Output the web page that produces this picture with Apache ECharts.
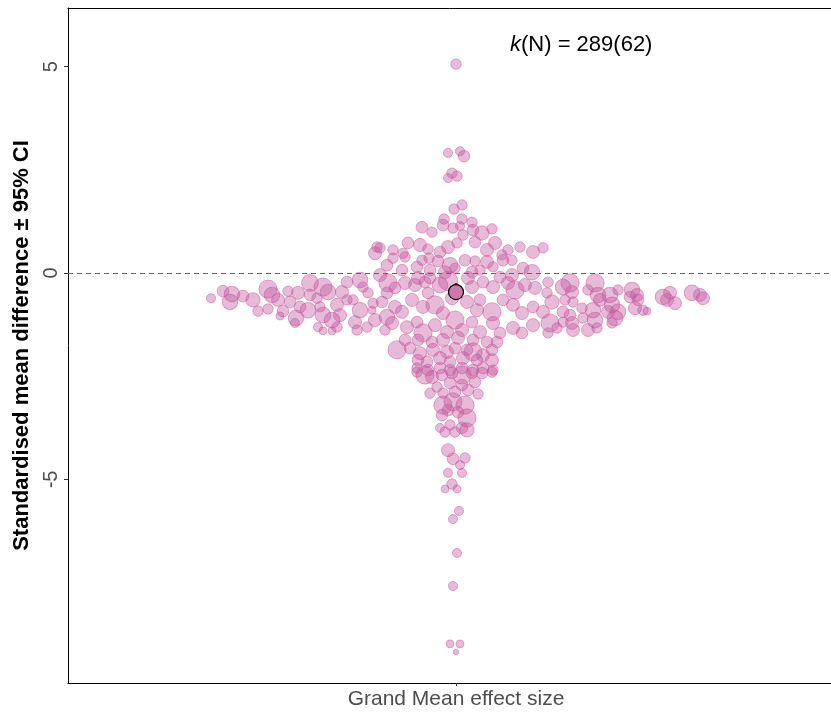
<!DOCTYPE html>
<html>
<head>
<meta charset="utf-8">
<title>Orchard plot</title>
<script src="https://cdn.jsdelivr.net/npm/echarts@6/dist/echarts.min.js"></script>
<style>
  html, body { margin: 0; padding: 0; background: #fff; }
  #chart { width: 831px; height: 713px; }
</style>
</head>
<body>
<div id="chart"></div>
<script>
  // horizontal position inside the swarm (jitter units)
  const jitter = [
    0, -0.08, 0.04, 0.08, -0.04, 0.01, -0.08,
    0.06, -0.02, -0.12, 0.06, 0.16, -0.34, -0.24, -0.13, -0.03, 0.04, 0.26, 0.36, 0.17,
    -0.48, -0.36, -0.28, -0.16, -0.08, 0.01, 0.07, 0.19, 0.31, 0.39, 0.52, 0.64, 0.77, -0.53, 0.46,
    -0.51, -0.39, -0.34, -0.27, -0.18, -0.06, -0.01, 0.09, 0.19, 0.31, 0.37, 0.47, 0.56, 0.67, 0.76, -0.54, -0.26, -0.11, 0.16, 0.24, 0.44, 0.56, -0.38, -0.26,
    -0.61, -0.51, -0.41, -0.31, -0.28, -0.16, 0.16, 0.27, 0.37, 0.52, 0.59, 0.69, 0.79, -0.08, 0.12,
    -0.54, -0.44, -0.33, -0.21, -0.13, -0.04, 0.11, -0.01, 0.21, 0.24, 0.36, 0.47, 0.57, 0.66, 0.77,
    -0.49, -0.39, -0.33, -0.21, -0.09, 0.06, 0.16, 0.24, 0.37, 0.44, 0.57, 0.66, 0.77, -0.51, -0.38, -0.24, -0.13, 0.02, 0.17, 0.31, 0.41,
    -0.59, -0.46, -0.36, -0.23, -0.09, -0.01, 0.11, 0.17, 0.27, 0.36, -0.38, -0.29, -0.16, -0.06, 0.07, 0.21, 0.36, -0.39, -0.28, -0.16, -0.06, 0.06, 0.17, 0.27, 0.37,
    -0.31, -0.24, -0.14, -0.04, 0.06, 0.16, 0.26, 0.36, -0.39, -0.06, 0.06, 0.19, -0.19, -0.26, -0.13, -0.01, 0.12, 0.22, -0.13, -0.03, 0.09, -0.08, -0.14, 0.02, 0.11, -0.06, -0.16, -0.11, -0.01, 0.06, 0.11, -0.08, -0.03, 0.09, 0.04, -0.08, 0.06,
    -0.04, -0.11, 0.01, 0.03, -0.03, 0.01, -0.03, -0.06, 0.04, 0,
    -2.45, -2.33, -2.24, -2.26, -2.13, -2.03, -1.98, -1.88, -1.88, -1.84, -1.78, -1.68, -1.73, -1.66, -1.76, -1.58, -1.56, -1.60, -1.61, -1.46, -1.46, -1.48, -1.39, -1.33, -1.28, -1.36, -1.33, -1.24, -1.38, -1.33, -1.19, -1.14, -1.09, -1.16, -1.19, -1.24, -1.03, -0.96, -0.96, -1.01, -0.99, -0.93, -0.88, -0.83, -0.84, -0.81, -0.89, -0.79, -0.81, -0.76, -0.63, -0.63, -0.69, -0.76, -0.68, -0.69, -0.74, -0.69, -0.71, -0.64, -0.61, -1.09,
    0.87, 0.92, 0.91, 0.87, 0.96, 0.94, 0.92, 1.01, 1.07, 1.14, 1.16, 1.09, 1.17, 1.07, 1.14, 1.16, 1.17, 1.07, 1.26, 1.27, 1.32, 1.39, 1.42, 1.44, 1.37, 1.39, 1.32, 1.41, 1.54, 1.56, 1.52, 1.62, 1.62, 1.59, 1.56, 1.76, 1.74, 1.81, 1.82, 1.79, 1.87, 1.91, 2.07, 2.14, 2.11, 2.19, 2.36, 2.44, 2.47
  ]
  // standardised mean difference of each effect
  const smd = [
    5.06, 2.91, 2.95, 2.83, 2.42, 2.35, 2.30,
    1.65, 1.55, 1.31, 1.31, 1.23, 1.11, 0.99, 1.16, 1.09, 1.14, 0.97, 1.07, 1.04,
    0.73, 0.68, 0.58, 0.51, 0.63, 0.73, 0.92, 0.75, 0.56, 0.73, 0.56, 0.63, 0.51, 0.48, 0.44,
    0.39, 0.15, 0.31, 0.36, 0.29, 0.19, 0.12, 0.31, 0.29, 0.27, 0.15, 0.31, 0.31, 0.12, 0.02, 0.07, 0.07, 0.02, 0.02, 0.07, -0.10, -0.05, -0.12, -0.12,
    -0.36, -0.24, -0.29, -0.22, -0.48, -0.29, -0.34, -0.22, -0.34, -0.24, -0.41, -0.29, -0.36, -0.19, -0.12,
    -0.94, -0.65, -0.82, -0.77, -0.97, -0.61, -0.70, -1.14, -0.90, -0.65, -0.94, -0.65, -0.77, -0.97, -0.82,
    -1.31, -1.19, -1.45, -1.26, -1.43, -1.38, -1.19, -1.43, -1.21, -1.45, -1.33, -1.45, -1.26, -1.62, -1.62, -1.67, -1.62, -1.57, -1.62, -1.67, -1.67,
    -1.86, -1.82, -1.94, -1.86, -1.91, -1.82, -1.86, -1.91, -1.99, -1.86, -2.11, -2.15, -2.06, -2.15, -2.06, -2.11, -2.11, -2.30, -2.35, -2.30, -2.35, -2.30, -2.35, -2.30, -2.35,
    -2.47, -2.52, -2.47, -2.42, -2.47, -2.42, -2.42, -2.40, -2.40, -2.66, -2.71, -2.64, -2.76, -2.91, -2.91, -2.88, -2.83, -2.93, -3.20, -3.12, -3.20, -3.32, -3.44, -3.37, -3.51, -3.68, -3.75, -3.85, -3.85, -3.75, -3.80, -4.29, -4.50, -4.48, -4.65, -4.84, -4.84,
    -5.11, -5.23, -5.23, -5.76, -5.96, -6.78, -7.58, -8.98, -8.98, -9.18,
    -0.61, -0.44, -0.51, -0.70, -0.56, -0.65, -0.92, -0.87, -0.39, -0.53, -0.65, -0.44, -0.92, -0.70, -1.04, -0.48, -0.82, -1.09, -1.21, -0.24, -0.53, -0.90, -0.61, -0.34, -0.46, -0.82, -1.02, -1.14, -1.31, -1.40, -0.77, -0.46, -0.65, -1.02, -1.31, -1.40, -0.65, -0.17, -0.90, -1.19, -1.38, -0.34, -0.48, -0.73, -0.90, -1.14, -1.31, 0.63, 0.48, 0.61, 0.56, 0.36, 0.19, -0.05, -0.24, -0.48, -0.70, -1.07, -1.38, -1.21, -0.82, -0.22,
    0.61, -0.22, -0.48, -0.94, -0.70, -1.21, -1.45, -1.33, -0.34, -0.24, -0.46, -0.65, -0.70, -0.94, -1.02, -1.21, -1.38, -1.19, -0.85, -1.09, -0.41, -0.24, -0.53, -0.65, -0.90, -1.14, -1.38, -1.33, -0.53, -0.77, -0.94, -0.41, -0.94, -1.09, -1.21, -0.41, -0.58, -0.53, -0.65, -0.85, -0.90, -0.92, -0.58, -0.48, -0.65, -0.73, -0.48, -0.53, -0.61
  ]
  // precision (drawn as point diameter)
  const precision = [
    8, 7, 7, 9, 8, 8, 7,
    8, 8, 8, 8, 8, 9, 8, 9, 8, 7, 11, 8, 9,
    9, 10, 8, 9, 10, 8, 8, 9, 10, 10, 8, 8, 10, 8, 8,
    8, 9, 8, 8, 9, 12, 8, 9, 8, 10, 8, 9, 8, 9, 12, 9, 9, 10, 9, 8, 9, 10, 10, 9,
    9, 10, 10, 9, 9, 12, 10, 9, 10, 10, 14, 10, 10, 15, 10,
    10, 10, 10, 14, 10, 10, 10, 14, 10, 9, 14, 9, 10, 10, 9,
    10, 9, 14, 10, 10, 10, 9, 10, 10, 9, 10, 9, 10, 9, 9, 9, 10, 10, 9, 9, 9,
    14, 9, 10, 10, 10, 9, 9, 14, 10, 9, 9, 9, 10, 9, 10, 9, 10, 8, 9, 9, 9, 9, 9, 9, 8,
    14, 10, 9, 9, 14, 9, 9, 8, 8, 9, 9, 9, 8, 8, 8, 9, 9, 8, 14, 14, 14, 9, 9, 9, 14, 8, 7, 8, 8, 9, 11, 10, 9, 8, 7, 7, 7,
    8, 6, 6, 7, 7, 7, 7, 6, 6, 4,
    7, 9, 12, 12, 9, 11, 8, 8, 14, 12, 10, 8, 9, 9, 6, 10, 9, 12, 7, 13, 9, 12, 8, 14, 12, 8, 12, 12, 7, 6, 10, 10, 8, 10, 8, 6, 8, 12, 12, 10, 8, 8, 8, 8, 6, 10, 8, 8, 10, 8, 8, 8, 9, 10, 14, 9, 9, 12, 8, 10, 10, 9,
    8, 8, 8, 10, 11, 14, 8, 8, 12, 14, 10, 8, 8, 9, 9, 10, 10, 8, 8, 8, 8, 14, 12, 10, 12, 12, 10, 8, 12, 12, 10, 8, 12, 12, 8, 12, 9, 10, 9, 10, 8, 6, 12, 10, 10, 10, 12, 10, 10
  ]
  const grandMean = -0.46
  const meanCI = [-0.62, -0.25]
  const yTicks = [-5, 0, 5]
  const xCategory = 'Grand Mean effect size'
  const yTitle = 'Standardised mean difference \u00b1 95% CI'

  const font = 'Liberation Sans, Arial, sans-serif'
  const pink = 'rgba(196, 84, 156, 0.5)'

  let points = jitter.map((x, i) => [x, smd[i], precision[i]])

  let chart = echarts.init(document.getElementById('chart'))
  chart.setOption({
    animation: false,
    title: {
      text: '{i|k}(N) = 289(62)',
      left: 505,
      top: 29,
      textStyle: {
        fontFamily: font,
        fontSize: 22,
        fontWeight: 'normal',
        color: '#000',
        rich: {
          i: { fontFamily: font, fontSize: 22, fontStyle: 'italic', color: '#000' }
        }
      }
    },
    grid: { left: 68, right: 0, top: 8, bottom: 30 },
    xAxis: [
      {
        type: 'value',
        min: -3.88,
        max: 3.75,
        axisLine: { show: true, onZero: false, lineStyle: { color: '#000', width: 1 } },
        axisTick: { show: true, customValues: [0], length: 3, lineStyle: { color: '#333' } },
        axisLabel: {
          customValues: [0],
          formatter: () => xCategory,
          margin: 6,
          fontFamily: font,
          fontSize: 21,
          color: '#4d4d4d'
        },
        splitLine: { show: false }
      },
      {
        type: 'value',
        position: 'top',
        min: -3.88,
        max: 3.75,
        axisLine: { show: true, onZero: false, lineStyle: { color: '#000', width: 1 } },
        axisTick: { show: false },
        axisLabel: { show: false },
        splitLine: { show: false }
      }
    ],
    yAxis: {
      type: 'value',
      min: -9.93,
      max: 6.42,
      name: yTitle,
      nameLocation: 'middle',
      nameGap: 29,
      nameTextStyle: { fontFamily: font, fontSize: 22, fontWeight: 'bold', color: '#000' },
      axisLine: { show: true, onZero: false, lineStyle: { color: '#000', width: 1 } },
      axisTick: { show: true, customValues: yTicks, length: 4, lineStyle: { color: '#333' } },
      axisLabel: {
        customValues: yTicks,
        rotate: 90,
        margin: 7,
        fontFamily: font,
        fontSize: 20,
        color: '#4d4d4d'
      },
      splitLine: { show: false }
    },
    series: [
      {
        // individual effect sizes
        type: 'scatter',
        data: points,
        symbolSize: v => v[2] * 1.3,
        itemStyle: { color: pink, borderColor: 'rgba(196, 84, 156, 0.6)', borderWidth: 1 },
        markLine: {
          silent: true,
          symbol: 'none',
          label: { show: false },
          lineStyle: { color: '#666', type: [5, 4], width: 1 },
          data: [{ yAxis: 0 }]
        },
        z: 2
      },
      {
        // confidence interval of the grand mean
        type: 'line',
        data: [[0, meanCI[0]], [0, meanCI[1]]],
        symbol: 'none',
        lineStyle: { color: '#000', width: 2.5 },
        z: 3
      },
      {
        // grand mean
        type: 'scatter',
        data: [[0, grandMean]],
        symbolSize: 15,
        itemStyle: { color: '#cf78ae', opacity: 1, borderColor: '#000', borderWidth: 1.2 },
        z: 10
      }
    ]
  })
</script>
</body>
</html>
